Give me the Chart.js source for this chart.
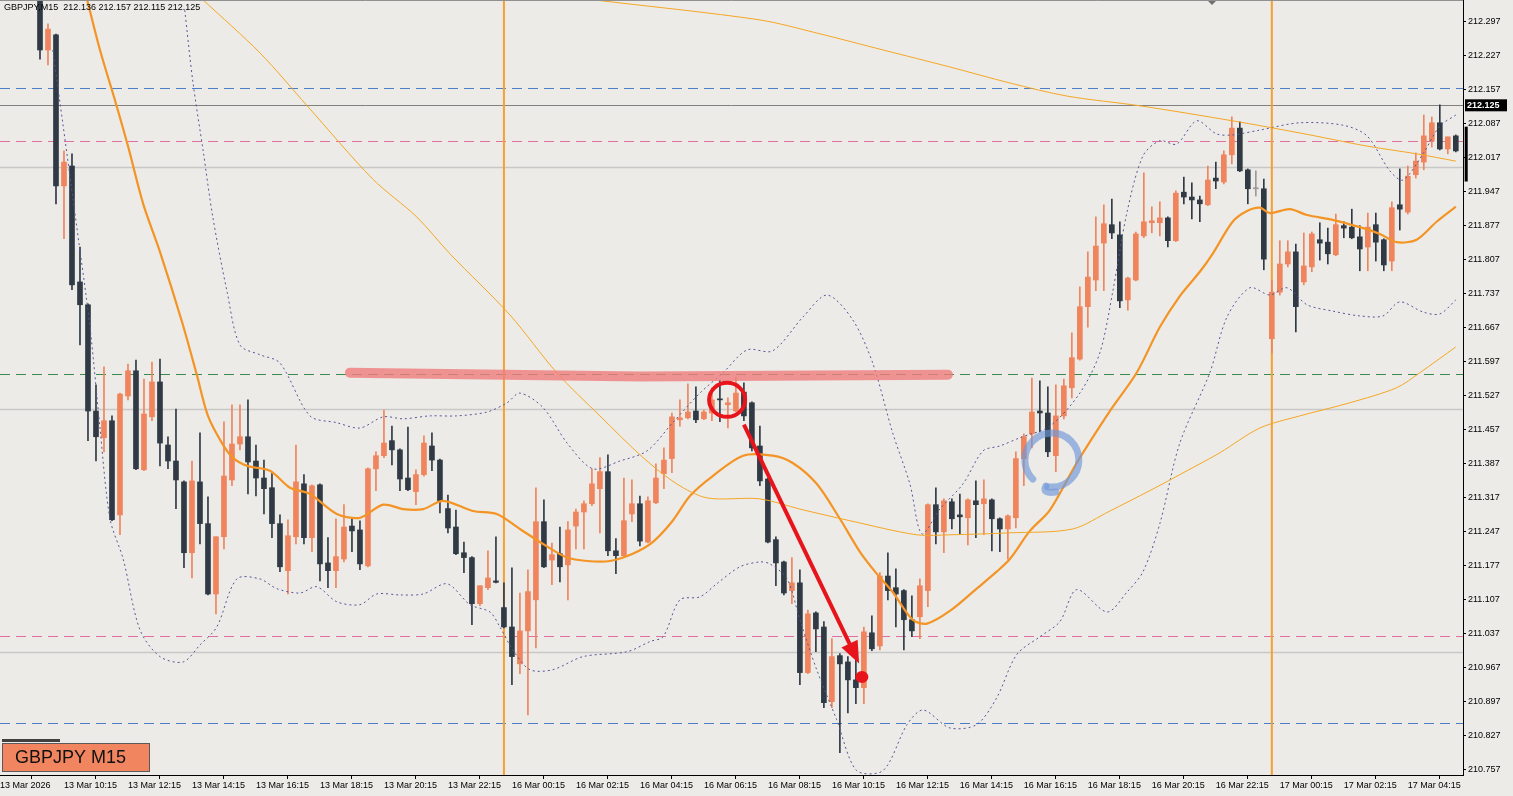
<!DOCTYPE html>
<html>
<head>
<meta charset="utf-8">
<script src="https://cdn.jsdelivr.net/npm/chart.js@4.4.1/dist/chart.umd.min.js"></script>
<style>
  html, body { margin: 0; padding: 0; background: #ECEBE7; }
  #wrap { width: 1513px; height: 796px; }
</style>
</head>
<body>
<div id="wrap"><canvas id="chart"></canvas></div>
<script>
// GBPJPY M15, candle 1 = 13 Mar 09:30
const candleOpen = [
  212.352,212.239,212.270,211.959,212.000,211.761,211.714,211.495,211.440,211.475,
  211.281,211.526,211.578,211.374,211.483,211.555,211.425,211.392,211.349,211.203,
  211.349,211.263,211.118,211.236,211.353,211.427,211.442,211.392,211.357,211.337,
  211.263,211.166,211.236,211.345,211.234,211.343,211.182,211.166,211.190,211.258,
  211.250,211.176,211.376,211.403,211.434,211.415,211.357,211.329,211.364,211.423,
  211.394,211.294,211.256,211.203,211.193,211.098,211.131,211.145,211.090,211.050,
  210.974,211.042,211.106,211.267,211.188,211.201,211.178,211.258,211.287,211.304,
  211.335,211.370,211.207,211.197,211.283,211.304,211.225,211.306,211.366,211.397,
  211.477,211.481,211.495,211.479,211.491,211.520,211.508,211.495,211.534,211.512,
  211.423,211.355,211.230,211.184,211.125,211.141,210.956,211.079,211.050,210.896,
  210.991,210.978,210.941,210.925,211.038,211.011,211.155,211.131,211.125,211.065,
  211.071,211.125,211.302,211.246,211.308,211.281,211.275,211.310,211.304,211.312,
  211.273,211.252,211.275,211.397,211.448,211.495,211.491,211.403,211.485,211.543,
  211.602,211.710,211.765,211.841,211.879,211.858,211.724,211.765,211.856,211.883,
  211.883,211.893,211.846,211.946,211.936,211.930,211.920,211.975,211.967,212.023,
  212.078,211.992,211.953,211.953,211.644,211.740,211.798,211.823,211.761,211.792,
  211.848,211.843,211.817,211.877,211.874,211.854,211.833,211.879,211.848,211.804,
  211.920,211.905,211.982,212.008,212.052,212.089,212.035,212.062
];
const candleHigh = [
  212.363,212.293,212.272,212.031,212.025,211.833,211.716,211.549,211.586,211.485,
  211.532,211.592,211.600,211.561,211.596,211.602,211.442,211.499,211.351,211.392,
  211.450,211.318,211.236,211.473,211.508,211.508,211.518,211.425,211.394,211.366,
  211.281,211.271,211.425,211.364,211.343,211.345,211.234,211.273,211.302,211.275,
  211.269,211.378,211.411,211.497,211.464,211.417,211.462,211.374,211.444,211.450,
  211.396,211.322,211.291,211.225,211.195,211.135,211.207,211.236,211.141,211.172,
  211.120,211.168,211.337,211.312,211.223,211.256,211.267,211.293,211.310,211.376,
  211.399,211.405,211.232,211.357,211.353,211.320,211.318,211.386,211.419,211.491,
  211.518,211.551,211.545,211.497,211.543,211.559,211.522,211.565,211.553,211.514,
  211.464,211.357,211.236,211.186,211.193,211.168,211.085,211.081,211.061,211.026,
  210.995,210.989,210.982,211.050,211.073,211.162,211.203,211.170,211.127,211.114,
  211.149,211.304,211.337,211.314,211.314,211.324,211.314,211.351,211.353,211.314,
  211.275,211.281,211.411,211.448,211.563,211.557,211.545,211.549,211.561,211.656,
  211.751,211.823,211.895,211.920,211.932,211.885,211.771,211.864,211.986,211.916,
  211.926,211.895,211.949,211.977,211.965,211.938,212.000,212.008,212.031,212.101,
  212.091,211.994,211.990,211.973,211.765,211.846,211.846,211.839,211.862,211.864,
  211.883,211.872,211.901,211.885,211.911,211.877,211.903,211.903,211.850,211.926,
  211.994,212.000,212.027,212.105,212.101,212.126,212.060,212.064
];
const candleLow = [
  212.220,212.208,211.922,211.850,211.745,211.631,211.434,211.392,211.411,211.269,
  211.240,211.518,211.374,211.372,211.475,211.382,211.376,211.294,211.172,211.151,
  211.221,211.116,211.077,211.211,211.341,211.415,211.324,211.320,211.283,211.234,
  211.164,211.118,211.221,211.221,211.205,211.145,211.131,211.131,211.184,211.205,
  211.168,211.174,211.331,211.399,211.384,211.331,211.331,211.302,211.361,211.372,
  211.285,211.244,211.199,211.162,211.055,211.094,211.127,211.141,211.048,210.931,
  210.954,210.869,211.007,211.172,211.137,211.143,211.106,211.211,211.211,211.300,
  211.244,211.197,211.160,211.195,211.267,211.217,211.223,211.304,211.335,211.368,
  211.464,211.479,211.471,211.477,211.475,211.473,211.460,211.493,211.475,211.413,
  211.341,211.223,211.135,211.116,211.098,210.931,210.954,210.999,210.884,210.884,
  210.791,210.873,210.892,210.892,211.001,211.003,211.106,211.050,211.003,211.030,
  211.026,211.092,211.221,211.203,211.252,211.242,211.219,211.234,211.240,211.207,
  211.205,211.190,211.254,211.341,211.419,211.452,211.401,211.370,211.479,211.522,
  211.600,211.668,211.743,211.743,211.850,211.708,211.703,211.763,211.852,211.862,
  211.856,211.833,211.844,211.922,211.891,211.885,211.918,211.953,211.963,212.004,
  211.988,211.922,211.938,211.786,211.615,211.734,211.792,211.658,211.755,211.782,
  211.806,211.798,211.815,211.852,211.850,211.784,211.784,211.804,211.784,211.784,
  211.868,211.901,211.975,211.992,212.039,212.033,212.025,212.029
];
const candleClose = [
  212.239,212.282,211.959,212.008,211.755,211.714,211.495,211.442,211.475,211.271,
  211.530,211.578,211.376,211.489,211.555,211.429,211.392,211.353,211.203,211.351,
  211.263,211.118,211.236,211.361,211.427,211.442,211.390,211.357,211.335,211.263,
  211.174,211.238,211.349,211.234,211.341,211.180,211.166,211.195,211.256,211.248,
  211.180,211.376,211.403,211.429,211.415,211.355,211.333,211.364,211.429,211.394,
  211.310,211.254,211.201,211.193,211.098,211.135,211.151,211.142,211.050,210.989,
  211.042,211.123,211.267,211.174,211.199,211.174,211.250,211.287,211.304,211.345,
  211.370,211.207,211.197,211.269,211.304,211.227,211.310,211.357,211.394,211.483,
  211.481,211.493,211.477,211.493,211.518,211.518,211.512,211.532,211.485,211.419,
  211.351,211.225,211.182,211.120,211.141,210.956,211.077,211.046,210.894,210.989,
  210.974,210.941,210.925,211.040,211.005,211.155,211.125,211.118,211.065,211.042,
  211.135,211.302,211.246,211.310,211.273,211.277,211.312,211.302,211.314,211.273,
  211.252,211.279,211.397,211.442,211.493,211.491,211.411,211.485,211.547,211.605,
  211.710,211.771,211.835,211.881,211.862,211.722,211.769,211.860,211.885,211.887,
  211.893,211.846,211.944,211.936,211.930,211.922,211.971,211.969,212.023,212.078,
  211.990,211.953,211.953,211.808,211.740,211.798,211.823,211.710,211.794,211.860,
  211.841,211.819,211.879,211.872,211.852,211.829,211.874,211.843,211.796,211.914,
  211.911,211.979,212.010,212.062,212.089,212.035,212.060,212.031
];

// indicator lines, [candle index, price]
const maFast = [[6.9,212.342],[8.5,212.239],[10.4,212.134],[12,212.041],[13.9,211.922],[16,211.823],[18.75,211.679],[20.6,211.570],[22,211.485],[23.75,211.429],[25.1,211.399],[26.9,211.382],[29.75,211.372],[32.25,211.337],[34.75,211.324],[38.1,211.283],[41,211.275],[43.9,211.302],[46.4,211.293],[48.9,211.293],[51.4,211.310],[55.1,211.289],[58.1,211.283],[61,211.252],[63.9,211.221],[66.9,211.193],[69.4,211.186],[72.25,211.186],[75.1,211.201],[77.6,211.225],[80.1,211.269],[82.25,211.320],[85.1,211.361],[88.9,211.403],[92.6,211.403],[95.1,211.388],[98.1,211.345],[101,211.273],[103.5,211.205],[105.6,211.160],[107.6,211.122],[110.1,211.065],[111.9,211.057],[114.75,211.083],[118.1,211.129],[120.6,211.164],[122.25,211.190],[124.75,211.248],[127.25,211.291],[130.6,211.388],[134.75,211.495],[138.1,211.574],[141,211.668],[143.5,211.732],[146,211.782],[147.6,211.819],[150.1,211.885],[151.9,211.907],[153.5,211.914],[154.75,211.903],[157.25,211.911],[159.4,211.899],[162.6,211.889],[166,211.874],[168.5,211.860],[170.6,211.843],[173.1,211.848],[175.6,211.885],[178,211.916]];
const maSlowA = [[21.4,212.342],[28.5,212.233],[34.4,212.124],[42.6,211.973],[48.1,211.895],[52.25,211.819],[59.75,211.693],[65.6,211.574],[71,211.485],[76.4,211.399],[80.6,211.345],[84.4,211.316],[91,211.314],[96,211.293],[102.25,211.269],[110.6,211.240],[114.75,211.240],[122.25,211.244],[130.1,211.252],[134.75,211.289],[139.75,211.331],[144.4,211.372],[148.5,211.409],[153.5,211.460],[158.5,211.485],[164.75,211.512],[170.6,211.543],[173.5,211.574],[178,211.627]];
const maSlowB = [[70.4,212.342],[91,212.301],[98.1,212.274],[106.4,212.239],[114.75,212.204],[122.25,212.171],[129.4,212.144],[138.5,212.124],[150.1,212.093],[158.5,212.068],[166.9,212.041],[173.1,212.025],[178,212.010]];
const bbUpper = [[19.1,212.321],[20.1,212.175],[21.4,212.031],[22.6,211.895],[24.4,211.740],[26,211.631],[28.5,211.611],[31,211.594],[34.75,211.485],[38.1,211.471],[41,211.460],[43.9,211.483],[46.4,211.479],[49.75,211.485],[53.1,211.485],[56.9,211.493],[59.4,211.512],[61,211.532],[63.9,211.502],[66.9,211.429],[70.1,211.376],[73.5,211.392],[76.9,211.413],[80.1,211.471],[83.5,211.532],[86.4,211.574],[89.4,211.621],[92.6,211.619],[96.4,211.689],[99.4,211.734],[102.6,211.683],[105.1,211.594],[107.6,211.450],[109.75,211.345],[111.25,211.242],[113.5,211.293],[116.4,211.345],[118.9,211.413],[121,211.423],[123.5,211.440],[127.25,211.464],[131,211.532],[133.5,211.615],[135.1,211.740],[136.9,211.905],[138.9,212.021],[141,212.052],[143.1,212.045],[145.6,212.093],[148.1,212.066],[150.1,212.064],[153.5,212.074],[158.5,212.089],[163.9,212.084],[166.9,212.062],[169.75,211.990],[171.4,211.971],[173.9,212.025],[176,212.082],[178,212.105]];
const bbLower = [[2.6,212.239],[3.9,212.082],[5.6,211.874],[7.25,211.668],[8.5,211.460],[9.75,211.273],[11.4,211.190],[13.5,211.044],[16,210.989],[18.9,210.978],[21,211.013],[23.1,211.050],[25.6,211.149],[28.5,211.149],[30.6,211.129],[33.5,211.120],[35.6,211.133],[38.1,211.102],[41,211.096],[43.1,211.118],[46,211.116],[48.9,211.118],[51.9,211.139],[54.75,211.096],[57.25,211.081],[58.5,211.050],[60.1,211.003],[62.25,210.962],[65.1,210.962],[68.9,210.989],[74.4,210.999],[77.25,211.020],[78.9,211.030],[81,211.106],[83.5,211.112],[85.6,211.139],[88.5,211.174],[91,211.184],[92.25,211.180],[94.4,211.149],[96,211.065],[98.1,210.962],[100.6,210.859],[103.1,210.754],[106.4,210.754],[109.4,210.849],[111.4,210.879],[114.75,210.842],[118.1,210.849],[120.6,210.904],[123.1,210.993],[126,211.030],[128.5,211.061],[130.6,211.127],[134.4,211.081],[136.9,211.122],[138.9,211.164],[141,211.263],[143.5,211.429],[147.25,211.574],[149.4,211.689],[152.25,211.749],[154.75,211.734],[156.9,211.749],[159.4,211.714],[162.6,211.701],[166,211.691],[168.9,211.691],[171,211.720],[173.9,211.699],[176,211.695],[178,211.724]];

// axes
const yTickValues = [212.297,212.227,212.157,212.087,212.017,211.947,211.877,211.807,211.737,211.667,211.597,211.527,211.457,211.387,211.317,211.247,211.177,211.107,211.037,210.967,210.897,210.827,210.757];
const xTickIndex = [-4,4,12,20,28,36,44,52,60,68,76,84,92,100,108,116,124,132,140,148,156,164,172];
const xTickLabels = ["13 Mar 2026","13 Mar 10:15","13 Mar 12:15","13 Mar 14:15","13 Mar 16:15","13 Mar 18:15","13 Mar 20:15","13 Mar 22:15","16 Mar 00:15","16 Mar 02:15","16 Mar 04:15","16 Mar 06:15","16 Mar 08:15","16 Mar 10:15","16 Mar 12:15","16 Mar 14:15","16 Mar 16:15","16 Mar 18:15","16 Mar 20:15","16 Mar 22:15","17 Mar 00:15","17 Mar 02:15","17 Mar 04:15"];

// levels and drawings
const levelBlue = [212.161, 210.853];
const levelPink = [212.052, 211.032];
const levelGreen = [211.572];
const levelGray = [211.998, 211.499, 210.999];
const currentPrice = 212.125;
const daySeparators = [59, 155];
const resistanceStroke = [[39.75, 211.574], [76, 211.566], [114.5, 211.570]];
const redCircle = [86.9, 211.518];
const arrowFrom = [89, 211.467];
const arrowTo = [103.4, 210.975];
const redDot = [103.75, 210.947];
const blueLoop = [127.5, 211.394];
const edgeBar = [179.3, 212.081, 211.968];

const BULL = '#F0845C', BEAR = '#2F3A45', DOJI = '#9A9A9A';
const idx = candleOpen.map((_, i) => i + 1);
const candleColor = idx.map((_, i) => candleClose[i] > candleOpen[i] ? BULL : (candleClose[i] < candleOpen[i] ? BEAR : DOJI));
const toXY = arr => arr.map(p => ({x: p[0], y: p[1]}));

function lineSet(data, color, width, dash) {
  return {type: 'line', data: toXY(data), borderColor: color, borderWidth: width, borderDash: dash || [],
    pointRadius: 0, tension: 0.3, order: 1};
}

const drawings = {
  id: 'drawings',
  beforeDatasetsDraw(chart) {
    const {ctx, chartArea: a, scales: {x, y}} = chart;
    ctx.save();
    ctx.beginPath(); ctx.rect(a.left, a.top, a.width, a.height); ctx.clip();
    const hline = (v, color, dash, w) => {
      const py = Math.round(y.getPixelForValue(v)) + 0.5;
      ctx.strokeStyle = color; ctx.lineWidth = w || 1; ctx.setLineDash(dash);
      ctx.beginPath(); ctx.moveTo(a.left, py); ctx.lineTo(a.right, py); ctx.stroke();
    };
    levelGray.forEach(v => hline(v, '#C8C8C8', [], 1.5));
    levelBlue.forEach(v => hline(v, '#4A7FC8', [10, 6]));
    levelPink.forEach(v => hline(v, '#E070A0', [10, 6]));
    levelGreen.forEach(v => hline(v, '#3A8A4A', [10, 6]));
    hline(currentPrice, '#808080', []);
    ctx.setLineDash([]);
    ctx.strokeStyle = '#F5A030'; ctx.lineWidth = 2;
    daySeparators.forEach(i => {
      const px = x.getPixelForValue(i);
      ctx.beginPath(); ctx.moveTo(px, a.top); ctx.lineTo(px, a.bottom); ctx.stroke();
    });
    ctx.restore();
  },
  afterDraw(chart) {
    const {ctx, chartArea: a, scales: {x, y}} = chart;
    const P = p => [x.getPixelForValue(p[0]), y.getPixelForValue(p[1])];
    ctx.save();
    ctx.beginPath(); ctx.rect(a.left, a.top, a.width, a.height); ctx.clip();
    // resistance marker
    ctx.strokeStyle = 'rgba(240,125,125,0.8)'; ctx.lineWidth = 10; ctx.lineCap = 'round';
    ctx.beginPath();
    resistanceStroke.forEach((p, k) => { const q = P(p); k ? ctx.lineTo(q[0], q[1]) : ctx.moveTo(q[0], q[1]); });
    ctx.stroke();
    // red circle
    let c = P(redCircle);
    ctx.strokeStyle = '#E8141C'; ctx.lineWidth = 4;
    ctx.beginPath(); ctx.ellipse(c[0], c[1], 18, 17, 0, 0, Math.PI * 2); ctx.stroke();
    // arrow
    const s = P(arrowFrom), e = P(arrowTo);
    const ang = Math.atan2(e[1] - s[1], e[0] - s[0]);
    ctx.lineWidth = 4; ctx.lineCap = 'butt';
    ctx.beginPath(); ctx.moveTo(s[0], s[1]);
    ctx.lineTo(e[0] - 14 * Math.cos(ang), e[1] - 14 * Math.sin(ang)); ctx.stroke();
    ctx.fillStyle = '#E8141C';
    ctx.beginPath(); ctx.moveTo(e[0], e[1]);
    ctx.lineTo(e[0] - 22 * Math.cos(ang) + 9 * Math.sin(ang), e[1] - 22 * Math.sin(ang) - 9 * Math.cos(ang));
    ctx.lineTo(e[0] - 22 * Math.cos(ang) - 9 * Math.sin(ang), e[1] - 22 * Math.sin(ang) + 9 * Math.cos(ang));
    ctx.closePath(); ctx.fill();
    c = P(redDot);
    ctx.beginPath(); ctx.ellipse(c[0], c[1], 6.5, 6, 0, 0, Math.PI * 2); ctx.fill();
    // blue loop
    c = P(blueLoop);
    ctx.strokeStyle = 'rgba(110,150,215,0.65)'; ctx.lineWidth = 7; ctx.lineCap = 'round';
    ctx.beginPath(); ctx.ellipse(c[0], c[1], 27, 27, 0, 0.75 * Math.PI, 2.55 * Math.PI); ctx.stroke();
    ctx.beginPath(); ctx.moveTo(c[0] - 6, c[1] + 26); ctx.quadraticCurveTo(c[0] - 10, c[1] + 34, c[0] + 4, c[1] + 32); ctx.stroke();
    // top marker
    ctx.fillStyle = '#707070';
    ctx.beginPath(); ctx.moveTo(1207, 0); ctx.lineTo(1217, 0); ctx.lineTo(1212, 5); ctx.closePath(); ctx.fill();
    ctx.restore();

    ctx.save();
    // top border
    ctx.strokeStyle = '#909090'; ctx.lineWidth = 1;
    ctx.beginPath(); ctx.moveTo(a.left, a.top + 0.5); ctx.lineTo(a.right, a.top + 0.5); ctx.stroke();
    // live bar at the right edge
    const ex = x.getPixelForValue(edgeBar[0]);
    ctx.fillStyle = '#000';
    ctx.fillRect(ex - 1.5, y.getPixelForValue(edgeBar[1]), 3, y.getPixelForValue(edgeBar[2]) - y.getPixelForValue(edgeBar[1]));
    // header
    ctx.fillStyle = '#000'; ctx.font = '9px "Liberation Sans", Arial, sans-serif'; ctx.textBaseline = 'middle';
    ctx.fillText('GBPJPY,M15  212.136 212.157 212.115 212.125', 4, 8);
    // symbol box
    ctx.fillStyle = '#404040'; ctx.fillRect(2, 739, 58, 3);
    ctx.fillStyle = '#F08560'; ctx.fillRect(2, 743, 147, 28);
    ctx.strokeStyle = '#5A5A5A'; ctx.lineWidth = 1; ctx.strokeRect(2.5, 743.5, 147, 28);
    ctx.fillStyle = '#111'; ctx.font = '18px "Liberation Sans", Arial, sans-serif';
    ctx.fillText('GBPJPY M15', 15, 758);
    // current price tag
    const py = y.getPixelForValue(currentPrice);
    ctx.fillStyle = '#000'; ctx.fillRect(a.right + 2, py - 6, 42, 12);
    ctx.fillStyle = '#fff'; ctx.font = 'bold 9px "Liberation Sans", Arial, sans-serif';
    ctx.fillText(currentPrice.toFixed(3), a.right + 4, py);
    ctx.restore();
  }
};

new Chart(document.getElementById('chart'), {
  type: 'bar',
  data: {
    datasets: [
      lineSet(maSlowB, '#F5A623', 1),
      lineSet(maSlowA, '#F5A623', 1),
      lineSet(bbUpper, '#55559A', 1, [2, 3]),
      lineSet(bbLower, '#55559A', 1, [2, 3]),
      lineSet(maFast, '#F39425', 2.2),
      {label: 'wick', data: idx.map((i, k) => ({x: i, y: [candleLow[k], candleHigh[k]]})),
        backgroundColor: candleColor, barThickness: 1, grouped: false, order: 3},
      {label: 'body', data: idx.map((i, k) => ({x: i, y: [candleOpen[k], candleClose[k]]})),
        backgroundColor: candleColor, barThickness: 5, minBarLength: 1, grouped: false, order: 2}
    ]
  },
  options: {
    responsive: true,
    maintainAspectRatio: false,
    animation: false,
    layout: {padding: 0},
    plugins: {legend: {display: false}, tooltip: {enabled: false}},
    scales: {
      x: {
        type: 'linear', min: -4, max: 178.9, offset: false,
        afterBuildTicks: s => { s.ticks = xTickIndex.map(v => ({value: v})); },
        afterFit: s => { s.height = 21; s.paddingLeft = 0; s.paddingRight = 0; },
        ticks: {autoSkip: false, maxRotation: 0, align: 'start', padding: 1, color: '#000',
          font: {family: '"Liberation Sans", Arial, sans-serif', size: 9},
          callback: v => xTickLabels[xTickIndex.indexOf(v)]},
        grid: {drawOnChartArea: false, tickLength: 4, color: '#000'},
        border: {display: true, color: '#000'}
      },
      y: {
        position: 'right', min: 210.745, max: 212.342,
        afterBuildTicks: s => { s.ticks = yTickValues.map(v => ({value: v})); },
        afterFit: s => { s.width = 50; s.paddingTop = 0; s.paddingBottom = 0; },
        ticks: {autoSkip: false, padding: 2, color: '#000',
          font: {family: '"Liberation Sans", Arial, sans-serif', size: 9},
          callback: v => v.toFixed(3)},
        grid: {drawOnChartArea: false, tickLength: 3, color: '#000'},
        border: {display: true, color: '#000'}
      }
    }
  },
  plugins: [drawings]
});
</script>
</body>
</html>
